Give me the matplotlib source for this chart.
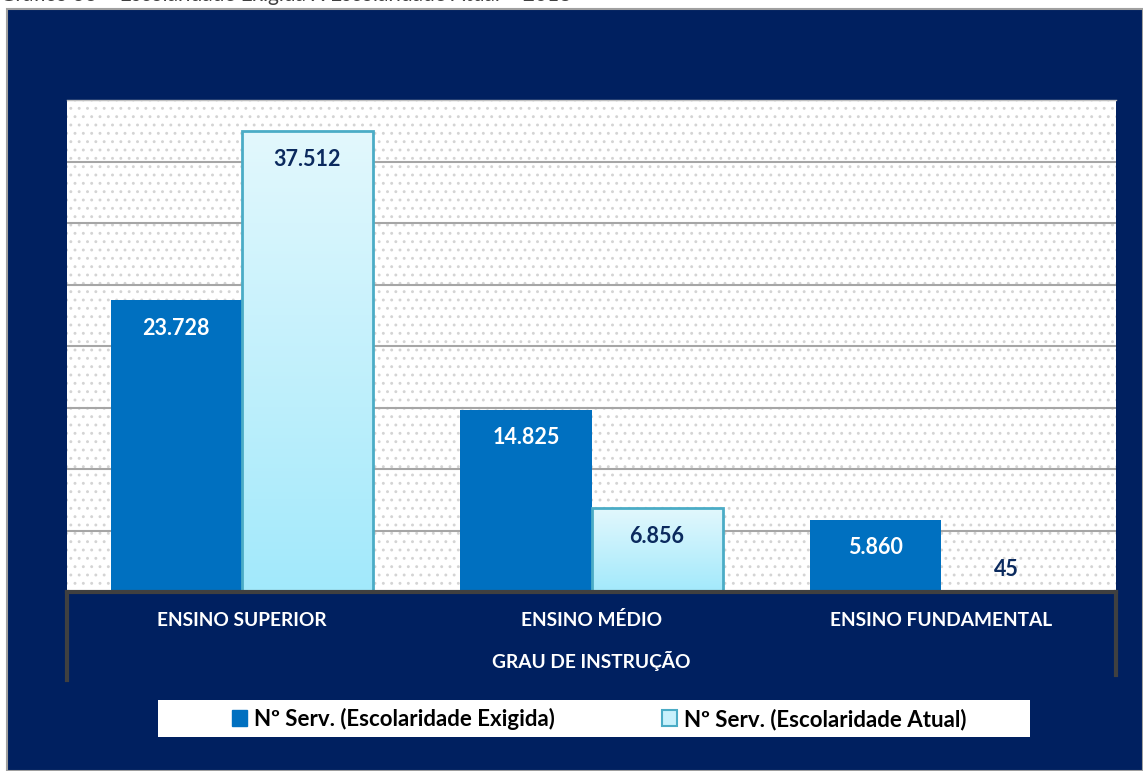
import matplotlib.pyplot as plt
from matplotlib.patches import Rectangle
from matplotlib.lines import Line2D
from matplotlib.colors import LinearSegmentedColormap
import numpy as np

categorias = ['ENSINO SUPERIOR', 'ENSINO MÉDIO', 'ENSINO FUNDAMENTAL']
exigida = [23728, 14825, 5860]
atual = [37512, 6856, 45]
serie_nomes = ['Nº Serv. (Escolaridade Exigida)', 'Nº Serv. (Escolaridade Atual)']
titulo = 'Gráfico 36 – Escolaridade Exigida X Escolaridade Atual – 2018'
eixo_x = 'GRAU DE INSTRUÇÃO'

navy = '#002060'
azul = '#0070c0'
borda_clara = '#4bacc6'

plt.rcParams['font.family'] = ['Lato', 'DejaVu Sans']
plt.rcParams['hatch.linewidth'] = 0.9

fig = plt.figure(figsize=(11.43, 7.71), dpi=100)
fig.patch.set_facecolor('white')

# fundo azul escuro
fig.patches.append(Rectangle((7 / 1143, 0), 1 - 7 / 1143, 1 - 9 / 771, transform=fig.transFigure,
                             facecolor=navy, edgecolor='#a0a0a0', linewidth=1.5, zorder=-10))
fig.text(0.0, 1 - 5 / 771, titulo, fontsize=15, color='#404040', va='bottom', ha='left')

ax = fig.add_axes([67 / 1143, 1 - 592 / 771, 1049 / 1143, 492 / 771])
ax.set_facecolor('white')
ax.add_patch(Rectangle((0, 0), 1, 1, transform=ax.transAxes, facecolor='white',
                       edgecolor='#d4d4d4', hatch='..', linewidth=0, zorder=0))

x = np.arange(len(categorias))
w = 0.375
b1 = ax.bar(x - w / 2, exigida, w, color=azul, edgecolor=azul, linewidth=0, zorder=3)
b2 = ax.bar(x + w / 2, atual, w, color='none', edgecolor=borda_clara, linewidth=2, zorder=4)

# gradiente nas barras claras
grad = np.linspace(0, 1, 256).reshape(-1, 1)
cmap = LinearSegmentedColormap.from_list('claro', ['#a2e9fb', '#e3f8fd'])
for r in b2:
    x0, y0 = r.get_x(), r.get_y()
    im = ax.imshow(grad, extent=(x0, x0 + r.get_width(), y0, y0 + r.get_height()),
                   origin='lower', cmap=cmap, aspect='auto', zorder=3.5)
    im.set_clip_path(r)

ax.set_xlim(-0.5, 2.5)
ax.set_ylim(0, 40000)
ax.set_yticks(np.arange(0, 40001, 5000))
ax.yaxis.grid(True, color='#a6a6a6', linewidth=1.5, zorder=1)
ax.set_axisbelow(True)
ax.tick_params(left=False, bottom=False, labelleft=False, labelbottom=False)
for s in ['left', 'right']:
    ax.spines[s].set_visible(False)
ax.spines['top'].set_color('#c0c0c0')
ax.spines['top'].set_linewidth(1)
ax.spines['bottom'].set_color('#404040')
ax.spines['bottom'].set_linewidth(3)
ax.spines['bottom'].set_zorder(6)

# linhas verticais do eixo de categorias
ax.add_line(Line2D([0, 0], [0, -88 / 492], transform=ax.transAxes, color='#404040',
                   linewidth=3, clip_on=False))
ax.add_line(Line2D([1, 1], [0, -83 / 492], transform=ax.transAxes, color='#404040',
                   linewidth=3, clip_on=False))

for i, c in enumerate(categorias):
    ax.text(x[i], -28 / 492, c, transform=ax.get_xaxis_transform(), ha='center', va='center',
            color='white', fontsize=13.8, fontweight='bold')
ax.text(1, -69 / 492, eixo_x, transform=ax.get_xaxis_transform(), ha='center', va='center',
        color='white', fontsize=13.8, fontweight='bold')

# rótulos de dados
for r, v in zip(b1, exigida):
    ax.annotate(f'{v:,}'.replace(',', '.'), (r.get_x() + r.get_width() / 2, v),
                xytext=(0, -28 * 0.72), textcoords='offset points', ha='center', va='center',
                color='white', fontsize=15.5, fontweight='bold', zorder=7)
for r, v in zip(b2, atual):
    off = -29 if v > 3000 else 22
    ax.annotate(f'{v:,}'.replace(',', '.'), (r.get_x() + r.get_width() / 2, v),
                xytext=(0, off * 0.72), textcoords='offset points', ha='center', va='center',
                color='#0b2a5e', fontsize=15.5, fontweight='bold', zorder=7)

# legenda
fig.patches.append(Rectangle((158 / 1143, 1 - 737 / 771), 872 / 1143, 37 / 771,
                             transform=fig.transFigure, facecolor='white', edgecolor='none', zorder=-5))
h1 = Rectangle((0, 0), 1, 1, facecolor=azul, edgecolor=azul)
h2 = Rectangle((0, 0), 1, 1, facecolor='#c8f1fc', edgecolor=borda_clara, linewidth=1.5)
leg = fig.legend([h1, h2], serie_nomes, loc='center', bbox_to_anchor=(599 / 1143, 1 - 719 / 771),
                 ncol=2, frameon=False, handlelength=0.7, handleheight=0.7, handletextpad=0.3,
                 columnspacing=4.8, prop={'size': 16, 'weight': 'bold'})
leg.set_zorder(5)

fig.savefig('out.png', dpi=100)
